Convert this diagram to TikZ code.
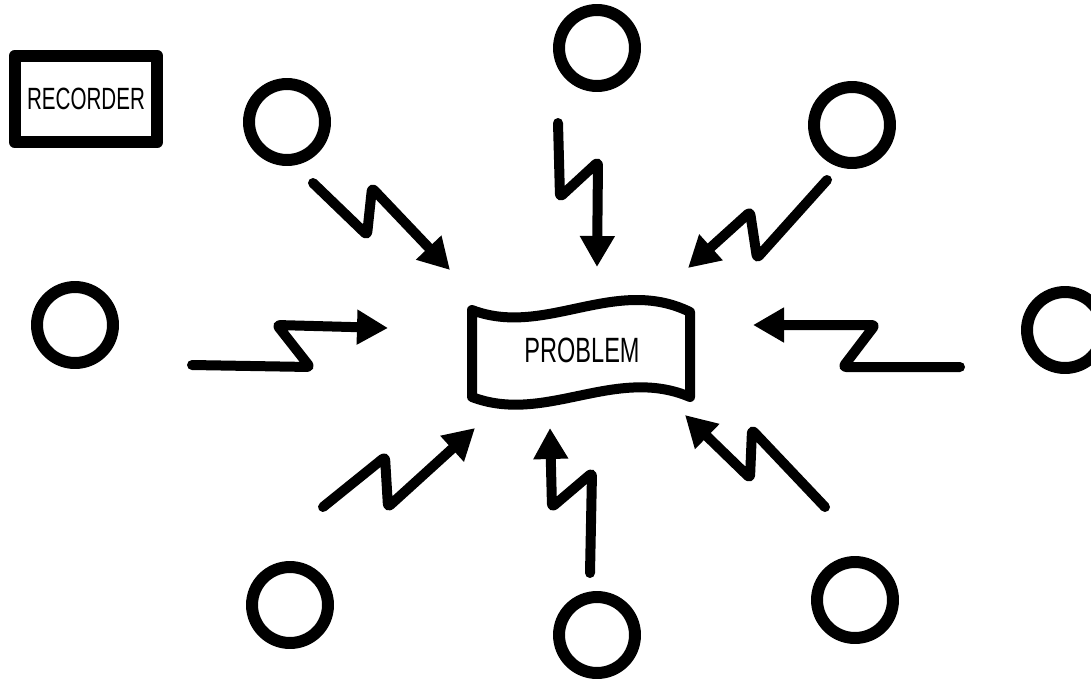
\documentclass[tikz,border=0pt]{standalone}
\usepackage{fontspec}
\newfontfamily\plotfont{Liberation Sans}[FakeStretch=0.67]
\usetikzlibrary{arrows.meta}

\begin{document}
\begin{tikzpicture}[x=0.02cm, y=-0.02cm, line cap=round, line join=round,
                    person/.style={draw, circle, line width=0.24cm, minimum size=1.52cm, inner sep=0pt},
                    bolt/.style={-{Triangle[length=0.62cm, width=0.66cm]}, line width=0.2cm, rounded corners=0.06cm},
                    recbox/.style={draw, line width=0.24cm, minimum width=2.86cm, minimum height=1.72cm, inner sep=0pt,
                                   font=\plotfont\fontsize{17.5pt}{20pt}\selectfont},
                    label text/.style={font=\plotfont\fontsize{20pt}{24pt}\selectfont, inner sep=0pt}]

    \useasboundingbox (0,0) rectangle (1091,680);

    \node[recbox] (rec) at (86,99) {RECORDER};

    % the people round the problem
    \node[person] (ptl)  at (287,122) {};
    \node[person] (ptop) at (597,48)  {};
    \node[person] (ptr)  at (852,125) {};
    \node[person] (pl)   at (75,325)  {};
    \node[person] (pr)   at (1065,330) {};
    \node[person] (pbl)  at (290,605) {};
    \node[person] (pbot) at (597,635) {};
    \node[person] (pbr)  at (855,600) {};

    % the problem (wavy banner)
    \draw[line width=0.2cm] (472,310) .. controls (545,338) and (615,275) .. (690,312)
        -- (690,397) .. controls (615,365) and (545,425) .. (472,397) -- cycle;
    \node[label text] (prob) at (582,350) {PROBLEM};

    % lightning arrows
    \draw[bolt] (ptl)  ++(26,61)   -- (367,235) -- (372,188) -- (450,270);
    \draw[bolt] (ptop) ++(-39,75)  -- (560,197) -- (598,162) -- (597,267);
    \draw[bolt] (ptr)  ++(-25,55)  -- (757,258) -- (750,212) -- (688,268);
    \draw[bolt] (pl)   ++(117,40)  -- (310,367) -- (277,325) -- (388,328);
    \draw[bolt] (pr)   ++(-105,37) -- (843,367) -- (875,325) -- (753,325);
    \draw[bolt] (pbl)  ++(33,-98)  -- (385,457) -- (388,507) -- (475,428);
    \draw[bolt] (pbot) ++(-7,-62)  -- (592,473) -- (552,507) -- (550,428);
    \draw[bolt] (pbr)  ++(-30,-93) -- (752,430) -- (750,478) -- (685,415);

\end{tikzpicture}
\end{document}
